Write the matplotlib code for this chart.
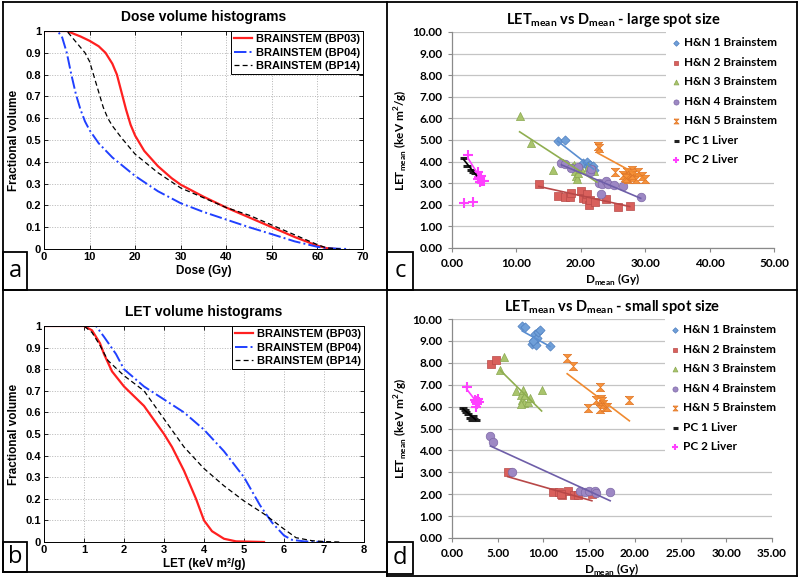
import matplotlib
matplotlib.use('Agg')
import matplotlib.pyplot as plt
from matplotlib.patches import Rectangle
from matplotlib.lines import Line2D
from matplotlib.ticker import FuncFormatter, MultipleLocator, FormatStrFormatter

# ---- panel a : dose volume histograms ----
dvh_bp03_dose = [0, 5, 8, 10, 12, 13.5, 15, 16, 17, 18, 19, 20, 22, 25, 28, 30, 35, 40, 45, 50, 55, 60, 62, 64]
dvh_bp03_vol = [1, 1, 0.975, 0.955, 0.93, 0.9, 0.85, 0.8, 0.72, 0.64, 0.57, 0.52, 0.45, 0.38, 0.325, 0.295,
                0.24, 0.19, 0.145, 0.1, 0.055, 0.015, 0.004, 0]
dvh_bp04_dose = [0, 3, 4, 5, 6, 7, 8, 9, 10, 12, 15, 20, 25, 30, 35, 40, 45, 50, 55, 60, 62, 65, 67]
dvh_bp04_vol = [1, 1, 0.97, 0.9, 0.8, 0.71, 0.64, 0.585, 0.545, 0.485, 0.42, 0.335, 0.265, 0.21, 0.17,
                0.135, 0.1, 0.068, 0.035, 0.01, 0.004, 0.001, 0]
dvh_bp14_dose = [0, 5, 7, 9, 10, 11, 12, 13, 14, 15, 17, 20, 25, 30, 35, 40, 45, 50, 55, 60, 62, 65]
dvh_bp14_vol = [1, 1, 0.95, 0.9, 0.86, 0.79, 0.72, 0.65, 0.6, 0.565, 0.51, 0.435, 0.35, 0.28, 0.235,
                0.19, 0.155, 0.11, 0.065, 0.02, 0.005, 0]

# ---- panel b : LET volume histograms ----
lvh_bp03_let = [0, 1, 1.2, 1.4, 1.5, 1.7, 2, 2.5, 3, 3.2, 3.5, 3.8, 4, 4.2, 4.5, 4.8, 5.5]
lvh_bp03_vol = [1, 1, 0.98, 0.92, 0.87, 0.79, 0.72, 0.63, 0.5, 0.44, 0.33, 0.2, 0.1, 0.05, 0.015, 0.003, 0]
lvh_bp04_let = [0, 1.3, 1.5, 1.8, 2, 2.5, 3, 3.5, 4, 4.5, 5, 5.4, 5.7, 6, 6.2, 6.5, 7]
lvh_bp04_vol = [1, 1, 0.95, 0.87, 0.8, 0.72, 0.66, 0.6, 0.52, 0.42, 0.3, 0.17, 0.09, 0.03, 0.01, 0.003, 0]
lvh_bp14_let = [0, 1, 1.2, 1.4, 1.6, 2, 2.5, 3, 3.5, 4, 4.5, 5, 5.5, 6, 6.3, 6.7, 7, 7.4]
lvh_bp14_vol = [1, 1, 0.97, 0.91, 0.84, 0.77, 0.7, 0.57, 0.44, 0.34, 0.26, 0.19, 0.13, 0.06, 0.02, 0.006, 0.002, 0]

hist_labels = ['BRAINSTEM (BP03)', 'BRAINSTEM (BP04)', 'BRAINSTEM (BP14)']

# ---- panel c : LETmean vs Dmean, large spot ----
series_names = ['H&N 1 Brainstem', 'H&N 2 Brainstem', 'H&N 3 Brainstem', 'H&N 4 Brainstem',
                'H&N 5 Brainstem', 'PC 1 Liver', 'PC 2 Liver']

c_x = [
    [16.4, 17.6, 20.4, 20.9, 21.1, 21.4, 21.9, 22.0, 21.2],
    [13.5, 16.5, 17.6, 18.3, 18.5, 20.1, 20.3, 20.8, 21.0, 21.2, 21.5, 22.2, 23.9, 25.8, 27.6],
    [10.5, 12.3, 15.7, 18.7, 19.1, 19.3, 19.4, 19.6, 20.0, 21.1, 22.0, 19.0],
    [17.0, 17.6, 18.5, 19.5, 21.5, 21.6, 22.8, 23.1, 23.3, 23.9, 24.2, 25.2, 26.5, 29.3],
    [22.6, 22.8, 25.3, 26.5, 26.9, 27.2, 27.4, 27.6, 27.9, 28.1, 28.3, 28.6, 28.9, 29.5, 29.9, 27.0, 28.0],
    [1.8, 2.4, 2.9, 3.2, 3.6],
    [2.5, 4.0, 4.2, 4.4, 4.3, 4.6, 5.0, 4.1, 4.5, 1.8, 3.3],
]
c_y = [
    [4.95, 5.02, 3.92, 3.98, 3.78, 3.85, 3.80, 3.62, 3.70],
    [2.95, 2.42, 2.38, 2.35, 2.55, 2.62, 2.30, 2.25, 2.48, 2.00, 2.20, 2.15, 2.25, 1.90, 1.95],
    [6.1, 4.85, 3.6, 3.75, 3.55, 3.35, 3.2, 3.45, 3.65, 3.75, 3.55, 3.85],
    [3.95, 3.9, 3.7, 3.75, 3.5, 3.65, 3.0, 2.52, 2.95, 3.1, 2.95, 2.9, 2.87, 2.35],
    [4.7, 4.62, 3.5, 3.4, 3.3, 3.5, 3.2, 3.35, 3.6, 3.3, 3.45, 3.2, 3.5, 3.35, 3.2, 3.25, 3.4],
    [4.15, 3.8, 3.6, 3.5, 3.45],
    [4.3, 3.5, 3.3, 3.2, 3.05, 3.1, 3.1, 3.2, 3.35, 2.1, 2.12],
]
# trendline end points (x0, x1, y0, y1)
c_trend = [
    (16.4, 22.0, 4.95, 3.65),
    (13.5, 27.6, 2.85, 1.92),
    (10.5, 22.5, 5.38, 3.05),
    (17.0, 29.3, 3.85, 2.3),
    (22.6, 30.0, 4.4, 3.2),
    (1.8, 3.8, 4.1, 3.35),
    (2.5, 4.8, 4.15, 3.05),
]

# ---- panel d : LETmean vs Dmean, small spot ----
d_x = [
    [7.7, 8.0, 8.8, 9.0, 9.0, 9.1, 9.2, 9.3, 9.4, 9.6, 10.7, 8.9],
    [4.3, 4.8, 6.1, 11.0, 11.7, 12.0, 12.7, 13.3, 13.8, 15.3, 11.9],
    [5.7, 5.3, 7.0, 7.5, 7.7, 7.8, 7.9, 8.0, 8.3, 8.5, 7.6, 9.8],
    [4.2, 4.5, 6.6, 14.0, 14.5, 15.0, 15.6, 15.8, 17.3],
    [12.6, 13.2, 14.9, 15.8, 16.2, 16.2, 16.3, 16.5, 16.4, 16.7, 17.0, 19.4],
    [1.2, 1.5, 1.8, 2.0, 2.2, 2.4, 2.6, 2.3, 1.4],
    [1.6, 2.5, 2.6, 2.7, 2.8, 2.6, 2.9, 2.7],
]
d_y = [
    [9.7, 9.65, 8.85, 8.95, 9.05, 9.3, 8.8, 9.15, 9.4, 9.5, 8.75, 9.0],
    [7.95, 8.15, 3.0, 2.1, 2.1, 1.95, 2.15, 1.95, 1.95, 2.0, 2.0],
    [8.25, 7.65, 6.7, 6.55, 6.3, 6.75, 6.15, 6.55, 6.2, 6.4, 6.1, 6.75],
    [4.65, 4.4, 3.0, 2.15, 2.1, 2.15, 2.15, 2.05, 2.1],
    [8.2, 7.85, 5.95, 6.3, 6.9, 5.9, 6.35, 6.1, 6.25, 6.0, 6.0, 6.3],
    [5.95, 5.75, 5.65, 5.5, 5.4, 5.45, 5.4, 5.55, 5.85],
    [6.9, 6.3, 6.2, 6.1, 6.35, 6.0, 6.2, 6.25],
]
d_trend = [
    (7.7, 10.7, 9.45, 8.75),
    (6.1, 15.3, 2.8, 1.7),
    (5.3, 9.8, 7.65, 5.8),
    (4.2, 17.3, 4.2, 1.7),
    (12.6, 19.4, 7.5, 5.35),
    (1.2, 2.6, 5.9, 5.4),
    (1.6, 2.8, 6.8, 6.15),
]

W, H = 800, 582
plt.rcParams['mathtext.fontset'] = 'custom'
plt.rcParams['mathtext.bf'] = 'Lato:bold'
plt.rcParams['mathtext.rm'] = 'Lato'

fig = plt.figure(figsize=(8, 5.82), dpi=100)


def box(l, t, r, b):
    return [l / W, 1 - b / H, (r - l) / W, (b - t) / H]


HELV = 'Liberation Sans'
hist_styles = [('#ff2020', '-', 1.6, None), ('#2040ff', '-.', 1.4, None), ('k', '--', 0.9, (4, 2.5))]


def matlab_axes(rect, title, xlabel, xmax, curves):
    ax = fig.add_axes(box(*rect))
    for (x, y), lab, (col, ls, lw, dash) in zip(curves, hist_labels, hist_styles):
        line, = ax.plot(x, y, color=col, ls=ls, lw=lw, label=lab)
        if dash:
            line.set_dashes(dash)
    ax.set_xlim(0, xmax)
    ax.set_ylim(0, 1)
    ax.xaxis.set_major_locator(MultipleLocator(10 if xmax > 10 else 1))
    ax.yaxis.set_major_locator(MultipleLocator(0.1))
    ax.yaxis.set_major_formatter(FuncFormatter(lambda v, p: f'{v:g}'))
    ax.grid(True, ls=':', color='#b4b4b4', lw=0.7)
    ax.tick_params(direction='in', top=True, right=True, length=3, width=0.6, labelsize=8, pad=2)
    for t in ax.get_xticklabels() + ax.get_yticklabels():
        t.set_fontfamily(HELV)
        t.set_fontweight('bold')
    for s in ax.spines.values():
        s.set_linewidth(0.7)
    ax.set_title(title, fontfamily=HELV, fontweight='bold', fontsize=10, pad=7)
    ax.set_xlabel(xlabel, fontfamily=HELV, fontweight='bold', fontsize=8.5, labelpad=2)
    ax.set_ylabel('Fractional volume', fontfamily=HELV, fontweight='bold', fontsize=8.5, labelpad=4)
    leg = ax.legend(loc='upper right', fancybox=False, framealpha=1, edgecolor='k', borderaxespad=0,
                    handlelength=1.6, handletextpad=0.3, borderpad=0.3, labelspacing=0.3,
                    prop={'family': HELV, 'weight': 'bold', 'size': 8})
    leg.get_frame().set_linewidth(0.7)
    return ax


matlab_axes((44, 31, 363, 249), 'Dose volume histograms', 'Dose (Gy)', 70,
            [(dvh_bp03_dose, dvh_bp03_vol), (dvh_bp04_dose, dvh_bp04_vol), (dvh_bp14_dose, dvh_bp14_vol)])
matlab_axes((44, 326, 364, 542), 'LET volume histograms', 'LET (keV m²/g)', 8,
            [(lvh_bp03_let, lvh_bp03_vol), (lvh_bp04_let, lvh_bp04_vol), (lvh_bp14_let, lvh_bp14_vol)])

# excel style scatter panels
hourglass = [(-1, 1), (1, 1), (-1, -1), (1, -1), (-1, 1)]
marker_fill = ['#6f9fd8', '#d9605c', '#a9c46c', '#9d88c4', '#f7923a', '#202020', '#ff40ff']
marker_edge = ['#4f7fbf', '#b84a48', '#8aa850', '#7d68a6', '#e0782a', '#000000', '#ff40ff']
trend_col = ['#5a8ed0', '#b84848', '#8fae50', '#6e5ea8', '#f08a30', '#000000', '#ff40ff']
markers = ['D', 's', '^', 'o', hourglass, '_', '+']
sizes = [22, 30, 34, 38, 36, 36, 45]
LATO = 'Lato'


def excel_axes(rect, title, xmax, xs, ys, trends):
    ax = fig.add_axes(box(*rect))
    for i, name in enumerate(series_names):
        lw = 2.2 if markers[i] == '_' else (1.5 if markers[i] == '+' else 0.5)
        ax.scatter(xs[i], ys[i], marker=markers[i], s=sizes[i], facecolors=marker_fill[i],
                   edgecolors=marker_edge[i], linewidths=lw, zorder=3, label=name)
        x0, x1, y0, y1 = trends[i]
        ax.plot([x0, x1], [y0, y1], color=trend_col[i], lw=1.2, zorder=4)
    ax.set_xlim(0, xmax)
    ax.set_ylim(0, 10)
    ax.xaxis.set_major_locator(MultipleLocator(10 if xmax > 40 else 5))
    ax.yaxis.set_major_locator(MultipleLocator(1))
    ax.xaxis.set_major_formatter(FormatStrFormatter('%.2f'))
    ax.yaxis.set_major_formatter(FormatStrFormatter('%.2f'))
    ax.grid(axis='y', color='#c4c4c4', lw=0.9)
    ax.set_axisbelow(True)
    for s in ('top', 'right'):
        ax.spines[s].set_visible(False)
    for s in ('left', 'bottom'):
        ax.spines[s].set_color('#8a8a8a')
        ax.spines[s].set_linewidth(0.9)
    ax.tick_params(direction='out', length=3, color='#8a8a8a', labelsize=8.5, pad=4)
    for t in ax.get_xticklabels() + ax.get_yticklabels():
        t.set_fontfamily(LATO)
        t.set_fontweight('bold')
    ax.set_title(r'LET$_{\mathbf{mean}}$ vs D$_{\mathbf{mean}}$ - ' + title, fontfamily=LATO,
                 fontweight='bold', fontsize=10.5, pad=6)
    ax.set_xlabel(r'D$_{\mathbf{mean}}$ (Gy)', fontfamily=LATO, fontweight='bold', fontsize=8.5, labelpad=2)
    ax.set_ylabel(r'LET$_{\mathbf{mean}}$ (keV m$^{\mathbf{2}}$/g)', fontfamily=LATO, fontweight='bold',
                  fontsize=8.5, labelpad=2)
    leg = ax.legend(loc='upper left', bbox_to_anchor=(0.665, 1.0), frameon=True, framealpha=1,
                    fancybox=False, markerscale=0.6, handlelength=0.8, handletextpad=0.3,
                    borderpad=0.45, labelspacing=0.72, borderaxespad=0,
                    prop={'family': LATO, 'weight': 'bold', 'size': 8.5})
    leg.get_frame().set_edgecolor('none')
    leg.get_frame().set_facecolor('white')
    leg.set_zorder(5)
    return ax


excel_axes((452, 32, 774, 248), 'large spot size', 50, c_x, c_y, c_trend)
excel_axes((452, 319, 772, 538), 'small spot size', 35, d_x, d_y, d_trend)


# frames and panel letters
def fline(x0, y0, x1, y1):
    fig.add_artist(Line2D([x0 / W, x1 / W], [1 - y0 / H, 1 - y1 / H], color='k', lw=1.3,
                          transform=fig.transFigure))


fline(3, 2, 797, 2)
fline(3, 2, 3, 572)
fline(797, 2, 797, 576)
fline(3, 572, 387, 572)
fline(387, 576, 797, 576)
fline(387, 2, 387, 576)
fline(3, 290, 797, 290)

for letter, (l, t, r, b) in zip('abcd', [(3, 252, 27, 290), (3, 542, 27, 572),
                                        (387, 252, 413, 290), (387, 542, 413, 574)]):
    fig.add_artist(Rectangle((l / W, 1 - b / H), (r - l) / W, (b - t) / H, fill=False, lw=1.3,
                             edgecolor='k', transform=fig.transFigure))
    fig.text((l + r) / 2 / W, 1 - (t + b) / 2 / H, letter, ha='center', va='center',
             fontfamily='Open Sans', fontsize=17)

fig.savefig('out.png', dpi=100)
